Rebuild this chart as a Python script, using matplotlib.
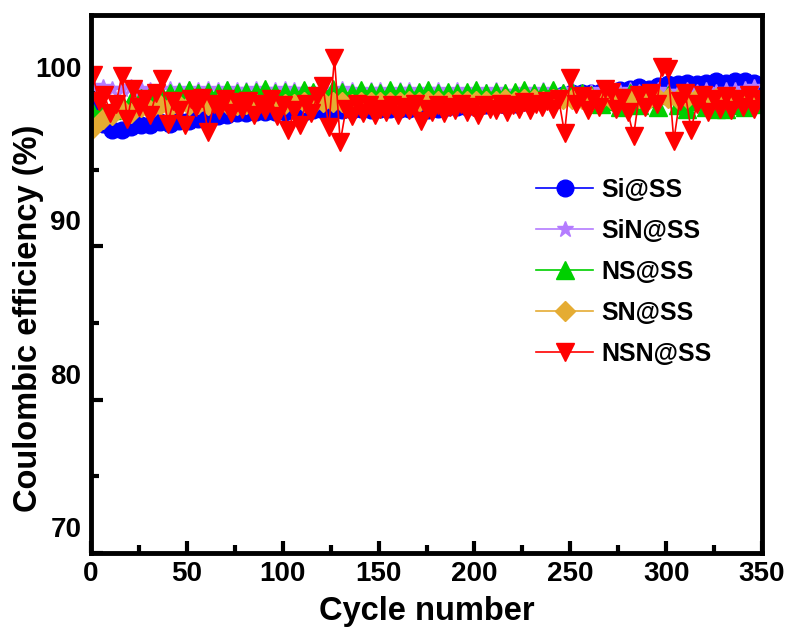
import numpy as np
import matplotlib.pyplot as plt
from matplotlib.ticker import MultipleLocator
from matplotlib.transforms import ScaledTranslation

plt.rcParams['font.family'] = ['Liberation Sans', 'DejaVu Sans']
plt.rcParams['font.weight'] = 'bold'

# cycle numbers (every 5th cycle for the first four cells, every 3rd for NSN)
cycles = np.arange(1, 351, 5)
cycles_nsn = np.arange(1, 351, 3)

si_ss = [97.6, 96.3, 95.9, 95.9, 96.1, 96.2, 96.2, 96.4, 96.3, 96.5,
         96.5, 96.6, 96.7, 96.8, 96.9, 97.0, 97.0, 97.1, 97.1, 97.1,
         97.1, 97.2, 97.1, 97.2, 97.2, 97.2, 97.2, 97.2, 97.3, 97.2,
         97.3, 97.3, 97.3, 97.3, 97.3, 97.2, 97.3, 97.4, 97.4, 97.4,
         97.4, 97.5, 97.5, 97.5, 97.6, 97.7, 97.8, 97.9, 98.0, 98.2,
         98.3, 98.3, 98.3, 98.4, 98.4, 98.5, 98.6, 98.7, 98.6, 98.8,
         98.9, 98.9, 99.0, 98.9, 99.0, 99.1, 99.0, 99.1, 99.1, 99.0]

sin_ss = [98.8, 98.7, 98.6, 98.6, 98.7, 98.6, 98.5, 98.6, 98.6, 98.5,
          98.6, 98.5, 98.6, 98.5, 98.6, 98.5, 98.5, 98.6, 98.5, 98.5,
          98.6, 98.5, 98.5, 98.4, 98.5, 98.5, 98.6, 98.5, 98.4, 98.5,
          98.5, 98.4, 98.5, 98.5, 98.4, 98.5, 98.5, 98.4, 98.5, 98.4,
          98.5, 98.4, 98.5, 98.4, 98.4, 98.5, 98.4, 98.5, 98.4, 98.4,
          98.5, 98.4, 98.4, 98.5, 98.4, 98.4, 98.5, 98.4, 98.4, 98.5,
          98.4, 98.4, 98.5, 98.4, 98.5, 98.4, 98.5, 98.5, 98.6, 98.7]

ns_ss = [97.0, 97.3, 97.2, 97.6, 97.8, 98.0, 98.2, 98.4, 98.3, 98.4,
         98.5, 98.3, 98.4, 98.3, 98.5, 98.3, 98.4, 98.4, 98.6, 98.3,
         98.4, 98.3, 98.5, 98.4, 98.3, 98.6, 98.4, 98.3, 98.5, 98.4,
         98.3, 98.5, 98.4, 98.3, 98.4, 98.5, 98.3, 98.4, 98.3, 98.4,
         98.5, 98.3, 98.4, 98.3, 98.4, 98.5, 98.3, 98.4, 98.5, 98.3,
         98.4, 98.3, 98.2, 97.6, 97.8, 97.4, 98.3, 97.5, 98.0, 97.4,
         98.2, 97.5, 97.3, 97.8, 97.4, 97.3, 97.3, 97.5, 97.4, 97.6]

sn_ss = [96.0, 96.6, 96.9, 97.3, 97.0, 97.4, 97.2, 97.5, 97.4, 97.5,
         97.5, 97.6, 97.5, 97.6, 97.6, 97.5, 97.6, 97.6, 97.6, 97.6,
         97.6, 97.6, 97.7, 97.6, 97.7, 97.7, 97.7, 97.6, 97.7, 97.7,
         97.7, 97.7, 97.7, 97.8, 97.7, 97.8, 97.8, 97.7, 97.8, 97.8,
         97.8, 97.8, 97.8, 97.9, 97.8, 97.9, 97.9, 97.8, 97.9, 97.9,
         97.9, 97.9, 98.0, 97.9, 97.9, 98.0, 97.9, 98.0, 97.9, 98.0,
         98.0, 97.9, 98.0, 98.0, 97.9, 98.0, 98.0, 97.9, 98.0, 98.0]

nsn_ss = [99.5, 97.8, 98.2, 97.0, 97.6, 99.4, 96.6, 98.6, 97.4, 97.9,
          96.9, 98.3, 99.2, 96.3, 97.8, 97.2, 96.2, 97.9, 97.4, 98.0,
          95.8, 97.6, 97.2, 97.9, 97.0, 97.7, 97.3, 97.8, 96.9, 97.6,
          97.2, 97.9, 96.8, 97.5, 95.9, 97.2, 96.2, 97.6, 97.0, 98.1,
          98.8, 96.1, 100.6, 95.1, 97.3, 96.8, 97.6, 97.0, 97.5, 96.9,
          97.3, 97.1, 97.5, 96.9, 97.4, 97.2, 97.6, 96.5, 97.3, 97.1,
          97.5, 97.0, 97.4, 97.2, 97.6, 97.1, 97.4, 96.9, 97.5, 97.3,
          97.2, 97.6, 97.1, 97.5, 97.3, 97.7, 97.2, 97.6, 97.4, 97.8,
          97.3, 97.9, 95.7, 99.3, 97.6, 98.1, 97.2, 97.9, 97.4, 98.6,
          98.4, 97.3, 98.0, 97.1, 95.5, 98.2, 97.4, 98.3, 97.6, 100.0,
          99.9, 95.2, 97.8, 98.3, 95.9, 97.6, 98.2, 97.1, 97.9, 97.3,
          98.1, 97.2, 97.9, 97.4, 98.2, 97.3, 97.9]

fig = plt.figure(figsize=(7.88, 6.28), dpi=100)
ax = fig.add_axes([0.1155, 0.1194, 0.8515, 0.8566])

ax.plot(cycles, si_ss, '-o', color='#0000ff', ms=12, lw=1.2, label='Si@SS')
ax.plot(cycles, sin_ss, '-*', color='#b47cff', ms=12, lw=1.2, label='SiN@SS')
ax.plot(cycles, ns_ss, '-^', color='#00d000', ms=12.5, lw=1.2, label='NS@SS')
ax.plot(cycles, sn_ss, '-D', color='#e5ac33', ms=10, lw=1.2, label='SN@SS')
ax.plot(cycles_nsn, nsn_ss, '-v', color='#ff0000', ms=13.5, lw=1.2, label='NSN@SS')

ax.set_xlim(0, 350)
ax.set_ylim(68.3, 103.4)
ax.xaxis.set_major_locator(MultipleLocator(50))
ax.xaxis.set_minor_locator(MultipleLocator(25))
ax.set_yticks([68.3, 78.3, 88.3, 98.3], labels=['70', '80', '90', '100'])
ax.set_yticks([73.3, 83.3, 93.3], minor=True)

for side in ax.spines.values():
    side.set_linewidth(3.5)
ax.tick_params(which='both', direction='in', top=False, right=False, width=3)
ax.tick_params(which='major', length=8.5, labelsize=20)
ax.tick_params(which='minor', length=5.5)
ax.tick_params(axis='x', pad=6)
ax.tick_params(axis='y', pad=7)

# y labels sit a little above their tick marks
shift = ScaledTranslation(0, 0.26, fig.dpi_scale_trans)
for lab in ax.get_yticklabels():
    lab.set_transform(lab.get_transform() + shift)

ax.set_xlabel('Cycle number', fontsize=23.5, fontweight='bold')
ax.set_ylabel('Coulombic efficiency (%)', fontsize=23.5, fontweight='bold')
ax.xaxis.set_label_coords(0.5, -0.080)
ax.yaxis.set_label_coords(-0.070, 0.437)

ax.legend(loc='upper left', bbox_to_anchor=(0.663, 0.698), frameon=False,
          fontsize=18, handlelength=2.3, handletextpad=0.3, labelspacing=0.68,
          borderpad=0, borderaxespad=0)

fig.savefig('out.png', dpi=100)
